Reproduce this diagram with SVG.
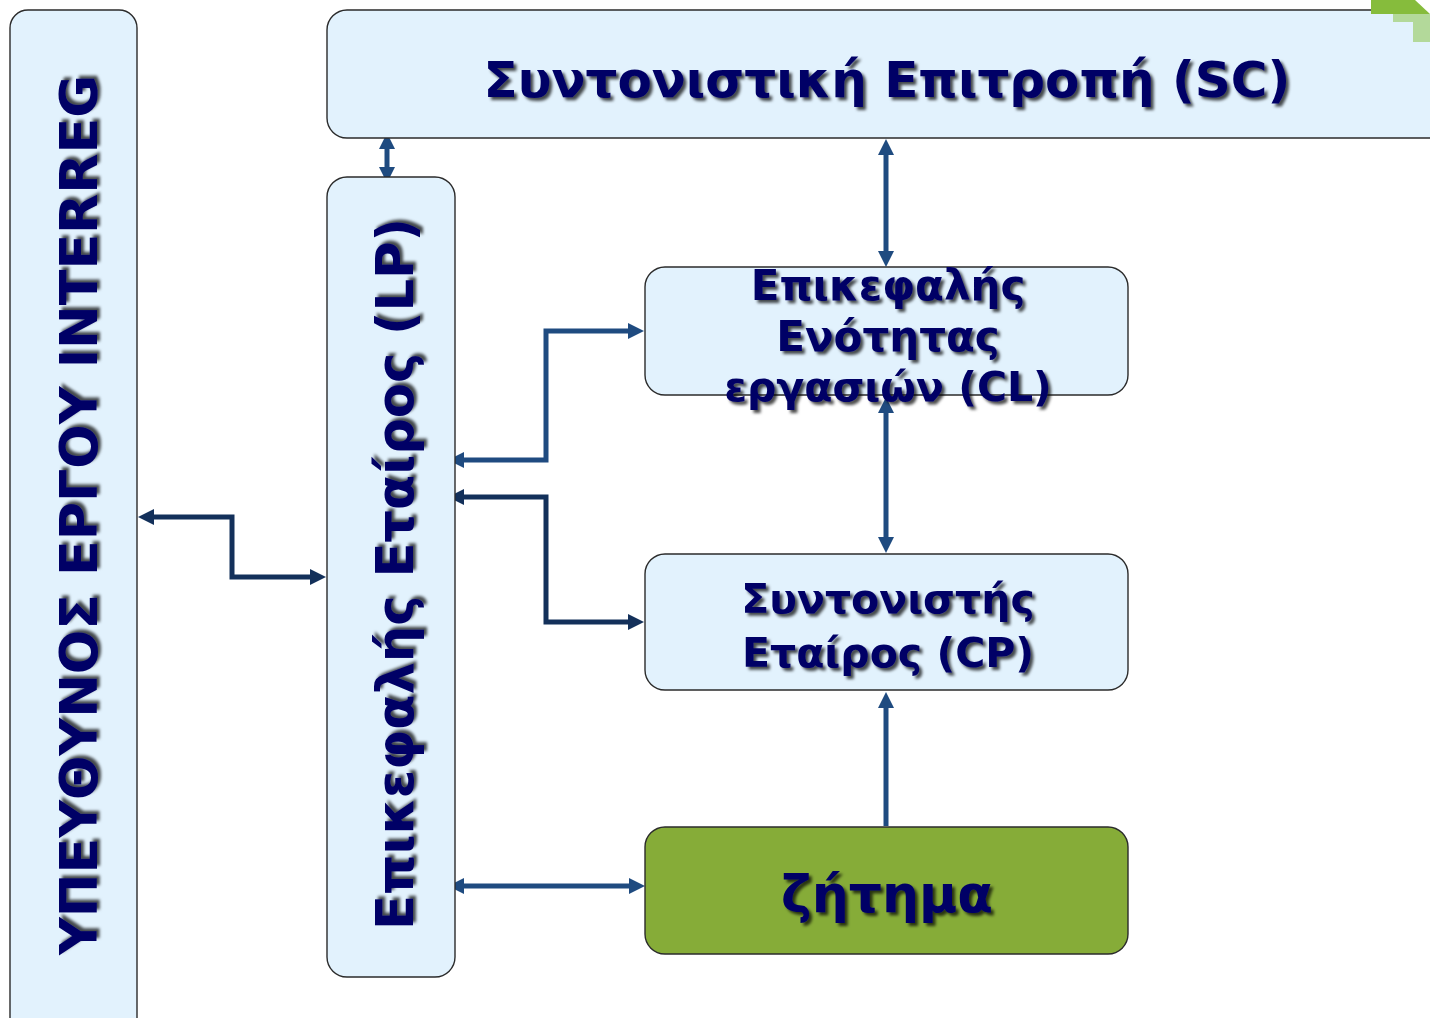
<svg xmlns="http://www.w3.org/2000/svg" width="1430" height="1018" viewBox="0 0 1430 1018">
<defs>
<style>
.box{fill:#E2F2FD;stroke:#2b2b2b;stroke-width:1.4}
.green{fill:#86AC38;stroke:#2b2b2b;stroke-width:1.4}
.t{font-family:"DejaVu Sans",Verdana,sans-serif;font-weight:bold;fill:#000066;text-anchor:middle;filter:url(#sh)}
.c{fill:none;stroke:#1F4B80;stroke-width:5}
.d{fill:none;stroke:#13305A;stroke-width:5}
</style>
<filter id="sh" x="-10%" y="-30%" width="120%" height="160%">
<feDropShadow dx="3" dy="3" stdDeviation="1.6" flood-color="#000" flood-opacity="0.7"/>
</filter>
<marker id="a" markerUnits="userSpaceOnUse" markerWidth="16" markerHeight="16" refX="6" refY="8" orient="auto-start-reverse">
<path d="M0,0 L16,8 L0,16 Z" fill="#1F4B80"/>
</marker>
<marker id="ab" markerUnits="userSpaceOnUse" markerWidth="16" markerHeight="16" refX="6" refY="8" orient="auto-start-reverse">
<path d="M0,0 L16,8 L0,16 Z" fill="#1F4B80"/>
</marker>
<marker id="ad" markerUnits="userSpaceOnUse" markerWidth="16" markerHeight="16" refX="6" refY="8" orient="auto-start-reverse">
<path d="M0,0 L16,8 L0,16 Z" fill="#13305A"/>
</marker>
</defs>

<g id="connectors">
<path class="c" d="M387,143 V173" stroke-width="7" marker-start="url(#ab)" marker-end="url(#ab)"/>
<path class="c" d="M886,149 V257" stroke-width="4" marker-start="url(#a)" marker-end="url(#a)"/>
<path class="c" d="M458,460 H546 V331 H634" marker-start="url(#a)" marker-end="url(#a)"/>
<path class="d" d="M458,497 H546 V622 H634" marker-start="url(#ad)" marker-end="url(#ad)"/>
<path class="d" d="M148,517 H232 V577 H316" marker-start="url(#ad)" marker-end="url(#ad)"/>
<path class="c" d="M886,407 V543" stroke-width="4" marker-start="url(#a)" marker-end="url(#a)"/>
<path class="c" d="M886,826 V702" marker-end="url(#a)"/>
<path class="c" d="M458,886 H635" marker-start="url(#a)" marker-end="url(#a)"/>
</g>

<g id="interreg">
<rect class="box" x="10" y="10" width="127" height="1030" rx="18"/>
<text class="t" transform="translate(97,515) rotate(-90)" font-size="52" textLength="880" lengthAdjust="spacingAndGlyphs">ΥΠΕΥΘΥΝΟΣ ΕΡΓΟΥ INTERREG</text>
</g>

<g id="lp">
<rect class="box" x="327" y="177" width="128" height="800" rx="20"/>
<text class="t" transform="translate(413,574) rotate(-90)" font-size="52" textLength="712" lengthAdjust="spacingAndGlyphs">Επικεφαλής Εταίρος (LP)</text>
</g>

<g id="sc">
<rect class="box" x="327" y="10" width="1130" height="128" rx="20"/>
<text class="t" x="887" y="97" font-size="50">Συντονιστική Επιτροπή (SC)</text>
</g>

<g id="cl">
<rect class="box" x="645" y="267" width="483" height="128" rx="20"/>
<text class="t" x="888" y="300" font-size="42">Επικεφαλής</text>
<text class="t" x="888" y="351" font-size="42">Ενότητας</text>
<text class="t" x="888" y="401" font-size="41">εργασιών (CL)</text>
</g>

<g id="cp">
<rect class="box" x="645" y="554" width="483" height="136" rx="20"/>
<text class="t" x="888" y="613" font-size="41">Συντονιστής</text>
<text class="t" x="888" y="667" font-size="41">Εταίρος (CP)</text>
</g>

<g id="issue">
<rect class="green" x="645" y="827" width="483" height="127" rx="20"/>
<text class="t" x="887" y="912" font-size="52">ζήτημα</text>
</g>

<g id="corner">
<rect x="1371" y="0" width="59" height="14" fill="#86BC3C"/>
<path d="M1393,14 H1430 V42 H1413 V22 H1393 Z" fill="#B3D99A"/>
<path d="M1415,0 H1430 V14 Z" fill="#fff"/>
</g>
</svg>
